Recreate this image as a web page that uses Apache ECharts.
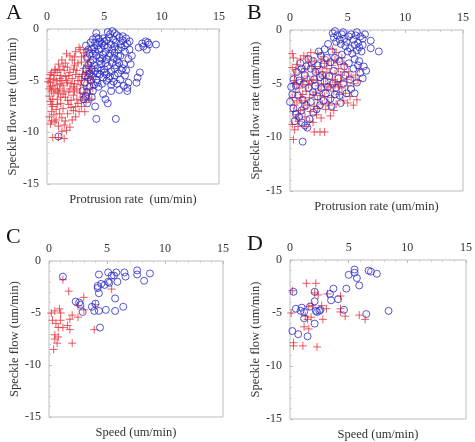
<!DOCTYPE html>
<html><head><meta charset="utf-8">
<script src="https://cdn.jsdelivr.net/npm/echarts@6/dist/echarts.min.js"></script>
<style>html,body{margin:0;padding:0;background:#fff}#c{width:475px;height:442px}</style>
</head><body><div id="c"></div>
<script>
const xTicks = [0, 5, 10, 15];
const yTicks = [0, -5, -10, -15];
const panelLetters = ['A', 'B', 'C', 'D'];
const xNames = ['Protrusion rate  (um/min)', 'Protrusion rate (um/min)', 'Speed (um/min)', 'Speed (um/min)'];
const yNames = ['Speckle flow rate (um/min)', 'Speckle flow rate (um/min)', 'Speckle flow (um/min)', 'Speckle flow (um/min)'];

const aRed = [[0.2,-4.8],[0.3,-5.2],[0.4,-6.0],[0.5,-5.5],[0.2,-6.5],[0.3,-7.0],[0.5,-7.5],[0.4,-8.0],[0.6,-8.3],[0.3,-9.2],[0.5,-10.5],[1.0,-10.5],[1.5,-10.6],[0.7,-9.0],[0.8,-7.8],[0.9,-6.8],[1.0,-6.2],[1.1,-5.8],[0.8,-5.0],[0.6,-4.5],[0.4,-4.2],[0.7,-4.0],[1.2,-4.5],[1.3,-5.0],[1.4,-5.5],[1.5,-6.0],[1.6,-6.6],[1.2,-7.2],[1.4,-7.7],[1.8,-8.2],[1.3,-8.6],[2.0,-9.5],[1.7,-9.8],[2.2,-8.8],[2.5,-8.5],[2.8,-8.0],[1.9,-7.3],[2.1,-6.9],[2.3,-6.4],[2.0,-5.8],[1.8,-5.2],[1.6,-4.6],[1.5,-4.0],[1.8,-3.7],[2.0,-4.2],[2.2,-4.8],[2.4,-5.3],[2.6,-5.8],[2.9,-6.2],[3.1,-6.6],[3.4,-7.1],[2.7,-7.2],[3.2,-5.5],[3.0,-5.0],[2.8,-4.6],[2.6,-4.0],[2.4,-3.5],[2.2,-3.0],[2.0,-2.6],[2.5,-2.2],[2.9,-2.0],[3.0,-3.2],[3.2,-3.8],[3.4,-4.3],[3.6,-4.8],[3.8,-5.2],[3.5,-5.8],[3.7,-6.3],[3.3,-2.6],[3.6,-3.0],[3.9,-3.6],[1.0,-3.4],[1.3,-3.0],[0.9,-4.2],[0.2,-5.8],[0.6,-6.2],[0.9,-5.4],[1.1,-4.8],[1.7,-5.0],[2.3,-5.6],[2.6,-6.8],[3.0,-7.5],[3.3,-8.0],[2.1,-7.6],[1.2,-6.6],[0.4,-7.3],[0.8,-8.8],[1.5,-9.3],[0.2,-8.5],[0.7,-3.9],[1.4,-3.6],[3.8,-4.1],[4.0,-4.6],[2.7,-3.3],[3.1,-4.4],[0.3,-5.6],[0.6,-4.9],[1.9,-6.1],[2.9,-5.4],[3.5,-3.5],[2.4,-2.7],[1.7,-2.4],[3.2,-2.3],[2.8,-1.8],[4.0,-5.7],[3.9,-6.8],[3.0,-6.9],[0.1,-5.1],[0.5,-6.8],[0.9,-7.3],[1.1,-8.2],[0.4,-8.9],[1.0,-9.4],[1.6,-8.9],[2.3,-7.9],[2.5,-7.5],[1.8,-6.9],[1.4,-6.3],[0.7,-5.8],[1.2,-5.3],[2.1,-5.3],[2.7,-5.0],[3.3,-6.2],[3.6,-6.7],[2.4,-6.0],[1.9,-4.5],[2.5,-4.4],[3.3,-4.8],[3.7,-4.0],[1.1,-3.9],[2.3,-3.9],[3.0,-2.7],[0.3,-4.4],[1.6,-3.3],[3.5,-2.0],[0.9,-6.0],[1.3,-9.9]];
const aBlue = [[4.0,-1.0],[4.3,-0.8],[4.6,-1.2],[4.9,-0.9],[5.2,-1.1],[5.5,-0.5],[5.7,-0.2],[5.8,-1.0],[6.0,-1.3],[6.3,-0.8],[6.6,-1.1],[6.9,-0.9],[7.0,-1.4],[6.5,-1.8],[6.2,-2.0],[5.9,-1.7],[5.6,-1.5],[5.3,-1.8],[5.0,-1.6],[4.7,-1.9],[4.4,-1.6],[4.1,-1.8],[3.8,-1.3],[3.6,-2.0],[4.0,-2.4],[4.3,-2.6],[4.6,-2.8],[4.9,-2.5],[5.2,-2.9],[5.5,-2.4],[5.8,-2.8],[6.1,-3.0],[6.4,-2.6],[6.8,-2.2],[7.2,-2.0],[7.4,-2.6],[7.3,-3.4],[3.5,-2.8],[3.8,-3.2],[4.1,-3.5],[4.4,-3.8],[4.7,-3.4],[5.0,-3.9],[5.3,-3.6],[5.6,-4.1],[5.9,-3.8],[6.2,-4.3],[6.5,-4.0],[6.8,-4.5],[3.4,-3.9],[3.7,-4.3],[4.0,-4.6],[4.3,-4.9],[4.6,-4.4],[4.9,-4.7],[5.2,-5.0],[5.5,-4.6],[5.8,-5.1],[6.1,-5.3],[6.4,-4.9],[6.7,-5.5],[7.0,-5.7],[7.0,-6.0],[6.3,-5.9],[5.6,-5.4],[4.8,-5.3],[4.1,-5.4],[3.7,-5.6],[3.5,-6.1],[3.9,-6.6],[4.2,-7.5],[3.5,-7.2],[3.2,-6.8],[3.1,-6.0],[3.3,-5.2],[4.9,-6.3],[5.1,-6.8],[5.3,-7.2],[4.3,-8.7],[6.0,-8.7],[1.0,-10.4],[8.1,-4.2],[7.9,-4.7],[7.8,-5.2],[8.0,-1.8],[8.3,-1.4],[8.6,-1.2],[8.9,-1.5],[8.7,-2.0],[8.4,-1.7],[9.5,-1.5],[8.8,-1.3],[5.4,-0.8],[6.1,-0.6],[4.5,-0.9],[5.1,-2.2],[6.7,-3.4],[7.1,-2.9],[3.9,-2.0],[4.2,-2.2],[5.7,-3.3],[6.0,-3.5],[4.6,-3.1],[3.6,-4.7],[5.0,-4.2],[4.5,-5.6],[6.6,-3.8],[7.2,-1.2],[4.8,-1.4],[5.9,-2.3],[3.4,-1.6],[4.0,-3.0],[5.4,-4.8],[6.9,-4.0],[7.1,-5.2],[4.4,-4.3],[3.3,-4.5],[5.3,-0.3],[6.4,-1.5],[6.8,-1.6],[4.2,-1.3],[4.5,-2.0],[4.8,-2.9],[5.1,-3.3],[5.4,-2.6],[5.7,-2.0],[6.3,-3.3],[3.9,-3.9],[4.2,-4.1],[4.7,-4.0],[5.2,-4.4],[5.9,-4.5],[4.4,-5.2],[3.8,-5.0],[3.6,-3.5],[4.3,-0.4],[5.0,-1.2],[5.9,-0.4],[6.6,-0.7],[6.2,-2.6],[3.7,-2.4],[4.0,-6.0],[3.4,-6.5],[5.6,-6.0]];
const bRed = [[0.2,-2.2],[0.3,-2.6],[0.2,-3.5],[0.4,-4.2],[0.3,-5.0],[0.5,-5.8],[0.2,-6.3],[0.4,-7.0],[0.3,-7.6],[0.5,-8.2],[0.2,-8.8],[0.4,-9.3],[0.3,-10.2],[0.7,-9.0],[0.8,-8.5],[0.9,-7.5],[1.0,-6.8],[1.1,-6.0],[0.8,-5.4],[1.2,-4.8],[1.0,-4.0],[1.3,-3.6],[1.5,-4.3],[1.6,-5.1],[1.4,-5.7],[1.7,-6.3],[1.5,-7.0],[1.8,-7.6],[1.3,-8.1],[2.0,-8.6],[2.3,-7.9],[2.1,-7.1],[2.4,-6.5],[2.2,-5.8],[2.5,-5.2],[2.0,-4.6],[2.3,-4.0],[2.6,-3.4],[2.1,-2.9],[1.8,-2.1],[2.9,-2.5],[3.0,-3.1],[2.8,-3.9],[3.1,-4.5],[2.9,-5.0],[3.2,-5.6],[3.0,-6.2],[3.3,-6.8],[3.1,-7.4],[2.7,-8.2],[3.5,-8.0],[2.1,-9.5],[2.6,-9.5],[3.0,-9.5],[3.4,-7.0],[3.6,-6.3],[3.8,-5.7],[3.5,-5.1],[3.7,-4.6],[3.4,-4.0],[3.6,-3.3],[3.9,-2.8],[4.0,-2.1],[3.7,-1.8],[4.2,-3.6],[4.4,-4.2],[4.1,-4.9],[4.5,-5.4],[4.3,-6.0],[4.6,-6.6],[4.8,-5.9],[5.0,-5.2],[4.9,-4.6],[5.1,-3.9],[4.7,-3.2],[5.3,-4.4],[5.5,-5.0],[5.2,-6.2],[5.5,-7.0],[5.8,-6.5],[5.7,-4.2],[6.0,-3.6],[0.6,-3.2],[0.9,-2.7],[1.2,-2.4],[1.6,-3.0],[1.9,-3.4],[2.4,-2.2],[3.3,-2.9],[4.5,-2.6],[1.1,-5.1],[0.6,-6.6],[0.7,-7.9],[1.9,-5.0],[2.7,-5.6],[2.8,-6.9],[3.9,-4.1],[4.2,-5.3],[4.0,-6.9],[1.4,-9.0],[1.7,-8.5],[2.4,-7.3],[5.0,-6.8],[5.9,-4.7],[4.7,-3.9],[0.4,-4.7],[1.2,-7.4],[3.8,-7.5],[2.2,-3.6],[1.5,-2.5],[0.6,-5.1],[0.9,-6.3],[1.3,-6.6],[2.0,-6.0],[2.6,-6.1],[2.4,-4.7],[2.9,-4.3],[3.3,-5.3],[3.9,-5.1],[4.4,-4.8],[1.7,-4.7],[1.0,-4.6],[0.5,-3.7],[2.7,-2.8],[3.2,-3.6],[4.1,-3.0]];
const bBlue = [[3.7,-0.3],[3.9,-0.1],[4.1,-0.5],[4.3,-0.9],[4.5,-0.4],[4.7,-0.8],[4.9,-1.1],[5.1,-0.6],[5.3,-0.4],[5.5,-0.9],[5.7,-0.5],[5.9,-1.2],[6.1,-0.6],[6.3,-0.8],[6.5,-0.4],[6.0,-1.6],[5.6,-1.4],[5.2,-1.7],[4.8,-1.5],[4.4,-1.3],[4.0,-1.1],[3.8,-0.7],[5.0,-2.0],[5.4,-2.2],[5.8,-1.9],[6.2,-2.0],[7.0,-1.0],[7.0,-1.7],[7.7,-2.0],[4.6,-0.2],[5.8,-0.2],[6.3,-1.4],[3.3,-1.3],[3.6,-2.0],[3.2,-2.6],[2.9,-3.2],[3.5,-3.0],[3.9,-2.6],[4.3,-2.9],[4.7,-3.4],[5.1,-3.1],[5.5,-3.6],[5.9,-3.3],[6.1,-4.0],[6.3,-4.5],[5.8,-4.9],[5.3,-5.5],[5.6,-5.9],[4.9,-5.9],[4.6,-5.0],[4.2,-4.5],[3.8,-3.8],[3.4,-4.3],[3.0,-4.8],[2.6,-4.4],[2.2,-3.9],[1.8,-3.6],[1.4,-3.4],[1.0,-3.6],[0.6,-3.9],[0.3,-4.6],[0.1,-5.3],[0.2,-6.0],[0.0,-6.7],[0.3,-7.3],[0.5,-7.8],[0.8,-8.1],[1.0,-8.6],[1.3,-8.9],[1.5,-9.1],[1.1,-10.4],[1.7,-8.3],[2.0,-7.7],[2.3,-7.4],[2.6,-7.0],[2.9,-6.6],[2.4,-6.2],[2.0,-5.8],[1.6,-5.4],[1.2,-5.0],[0.8,-4.7],[0.5,-5.2],[0.7,-6.1],[1.1,-6.5],[1.4,-7.0],[1.8,-6.7],[2.2,-5.2],[2.7,-5.4],[3.1,-5.9],[3.5,-6.4],[3.9,-6.0],[4.3,-6.1],[4.0,-5.4],[3.7,-5.0],[3.3,-5.3],[2.8,-4.2],[2.4,-3.3],[2.0,-2.9],[1.6,-2.7],[3.0,-1.8],[2.7,-2.4],[4.5,-2.3],[5.6,-2.7],[6.0,-2.9],[6.4,-3.4],[6.6,-3.8],[4.8,-4.2],[5.2,-4.6],[1.3,-4.2],[0.9,-3.1],[2.5,-2.0],[1.0,-7.5],[0.4,-8.5],[2.1,-4.6],[3.6,-7.1],[4.4,-6.8]];
const cRed = [[1.2,-1.8],[1.7,-2.9],[5.4,-2.7],[3.0,-3.5],[2.5,-4.3],[4.0,-4.2],[3.0,-4.7],[2.0,-5.2],[2.5,-5.4],[1.8,-5.6],[0.2,-5.0],[0.5,-4.8],[0.9,-4.6],[1.0,-5.0],[0.3,-5.7],[0.6,-6.0],[0.8,-6.4],[1.2,-6.4],[1.6,-6.2],[1.8,-6.6],[1.0,-5.7],[3.9,-6.6],[0.5,-7.1],[0.8,-7.3],[0.5,-7.5],[0.7,-7.9],[2.0,-7.9],[0.4,-8.5]];
const cBlue = [[1.2,-1.5],[4.3,-1.3],[5.1,-1.1],[5.4,-1.4],[5.6,-1.4],[5.8,-1.1],[6.5,-1.1],[6.6,-1.5],[7.6,-0.9],[7.6,-1.3],[8.7,-1.2],[8.2,-1.9],[5.9,-2.0],[5.1,-2.0],[5.2,-2.1],[4.8,-2.3],[4.5,-2.2],[4.2,-2.4],[4.2,-2.6],[4.3,-3.1],[5.7,-3.6],[4.0,-4.1],[2.3,-3.9],[2.6,-4.0],[2.7,-4.2],[3.7,-4.4],[2.9,-4.9],[3.9,-4.8],[4.3,-4.8],[4.9,-4.7],[5.7,-4.8],[6.4,-4.4],[4.4,-6.4]];
const dRed = [[0.2,-2.9],[0.1,-5.0],[0.3,-7.8],[0.3,-8.1],[1.1,-8.1],[1.4,-2.2],[2.2,-2.2],[2.1,-3.1],[2.4,-3.3],[3.2,-3.2],[1.6,-4.4],[1.9,-4.3],[1.3,-5.3],[1.5,-5.6],[1.8,-5.4],[1.2,-6.3],[1.6,-6.5],[2.7,-4.3],[3.1,-4.6],[2.8,-5.6],[4.3,-3.4],[4.3,-4.6],[4.3,-4.9],[4.7,-5.3],[5.9,-5.2],[6.4,-5.6],[2.3,-8.2]];
const dBlue = [[0.3,-3.0],[0.5,-4.6],[0.2,-6.7],[0.7,-7.0],[0.9,-4.8],[1.0,-4.5],[1.2,-4.9],[1.2,-5.5],[1.5,-7.2],[1.7,-4.4],[2.1,-3.0],[2.1,-3.9],[2.1,-6.0],[2.2,-4.8],[2.3,-4.9],[2.5,-4.8],[2.6,-4.7],[3.4,-3.2],[3.5,-3.8],[3.7,-2.7],[4.1,-3.7],[4.6,-4.7],[4.8,-2.7],[5.0,-1.4],[5.5,-0.9],[5.5,-1.2],[5.7,-1.7],[5.9,-2.4],[6.5,-5.1],[6.7,-1.0],[6.9,-1.1],[7.4,-1.3],[8.4,-4.8]];

const redSets = [aRed, bRed, cRed, dRed];
const blueSets = [aBlue, bBlue, cBlue, dBlue];

const grids = [
  {left: 47, top: 29, width: 172, height: 155},
  {left: 290, top: 30, width: 173, height: 161},
  {left: 49, top: 261, width: 174, height: 156},
  {left: 290, top: 260, width: 179, height: 161}
];
const letterPos = [[6, 2], [247, 2], [6, 226], [247, 233]];
const FONT = '"Liberation Serif", "DejaVu Serif", serif';
const RED = '#e8323c';
const BLUE = '#2c2cc8';

const option = {
  animation: false,
  backgroundColor: '#fff',
  grid: grids.map(g => Object.assign({show: true, borderColor: '#bdbdbd', borderWidth: 1, backgroundColor: 'transparent'}, g)),
  xAxis: [],
  yAxis: [],
  series: [],
  graphic: []
};

for (let i = 0; i < 4; i++) {
  option.xAxis.push({
    gridIndex: i, type: 'value', position: 'top', min: xTicks[0], max: xTicks[xTicks.length - 1], interval: 5,
    axisLine: {show: false},
    axisTick: {show: true, inside: true, length: 3, lineStyle: {color: '#bdbdbd'}},
    minorTick: {show: true, splitNumber: 5, length: 2, lineStyle: {color: '#cfcfcf'}},
    splitLine: {show: false},
    axisLabel: {fontFamily: FONT, fontSize: 12, color: '#333', margin: 6}
  });
  option.xAxis.push({
    gridIndex: i, type: 'value', position: 'bottom', min: 0, max: 15,
    axisLine: {show: false}, axisTick: {show: false}, axisLabel: {show: false}, splitLine: {show: false},
    name: xNames[i], nameLocation: 'middle', nameGap: 9,
    nameTextStyle: {fontFamily: FONT, fontSize: 12.5, color: '#333'}
  });
  option.yAxis.push({
    gridIndex: i, type: 'value', min: yTicks[yTicks.length - 1], max: yTicks[0], interval: 5,
    axisLine: {show: false},
    axisTick: {show: true, inside: true, length: 3, lineStyle: {color: '#bdbdbd'}},
    minorTick: {show: true, splitNumber: 5, length: 2, lineStyle: {color: '#cfcfcf'}},
    splitLine: {show: false},
    axisLabel: {fontFamily: FONT, fontSize: 12, color: '#333', margin: 8},
    name: yNames[i], nameLocation: 'middle', nameGap: 28,
    nameTextStyle: {fontFamily: FONT, fontSize: 12.5, color: '#333'}
  });
  option.series.push({
    type: 'scatter', xAxisIndex: i * 2, yAxisIndex: i, data: redSets[i],
    symbol: 'path://M0,5L10,5M5,0L5,10', symbolSize: 8,
    itemStyle: {color: 'transparent', borderColor: RED, borderWidth: 1}
  });
  option.series.push({
    type: 'scatter', xAxisIndex: i * 2, yAxisIndex: i, data: blueSets[i],
    symbol: 'circle', symbolSize: 7,
    itemStyle: {color: 'transparent', borderColor: BLUE, borderWidth: 1}
  });
  option.graphic.push({
    type: 'text', left: letterPos[i][0], top: letterPos[i][1],
    style: {text: panelLetters[i], font: '22px ' + FONT, fill: '#111'}
  });
}

const chart = echarts.init(document.getElementById('c'), null, {renderer: 'canvas'});
chart.setOption(option);
</script>
</body></html>
